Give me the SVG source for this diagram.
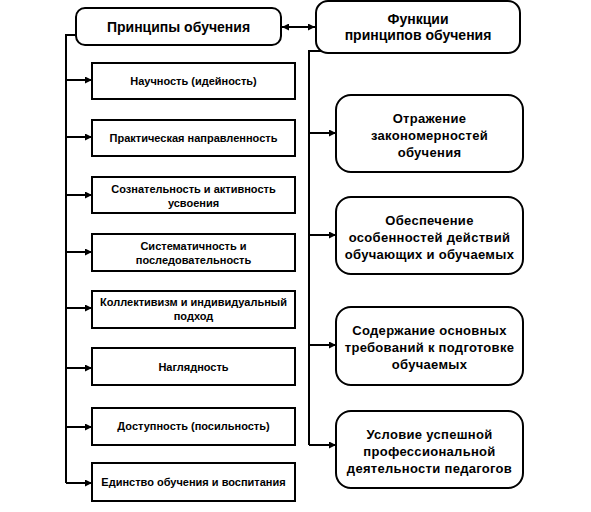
<svg xmlns="http://www.w3.org/2000/svg" width="591" height="512" viewBox="0 0 591 512">
<style>
.box{fill:#fff;stroke:#000;stroke-width:2}
.ln{fill:none;stroke:#000;stroke-width:2}
text{font-family:"Liberation Sans",Arial,sans-serif;font-weight:bold;fill:#000;text-anchor:middle}
.t{font-size:14px}
.l{font-size:11px}
.r{font-size:13px;letter-spacing:0.3px}
</style>
<defs>
<marker id="ah" viewBox="0 0 10 10" refX="10" refY="5" markerWidth="9" markerHeight="7" markerUnits="userSpaceOnUse" orient="auto-start-reverse">
<path d="M0,0 L10,5 L0,10 z" fill="#000"/>
</marker>
</defs>
<rect width="591" height="512" fill="#fff"/>
<g id="connectors">
<path class="ln" d="M76,35 H66 V483"/>
<path class="ln" d="M66,80 H92" marker-end="url(#ah)"/>
<path class="ln" d="M66,137 H92" marker-end="url(#ah)"/>
<path class="ln" d="M66,195 H92" marker-end="url(#ah)"/>
<path class="ln" d="M66,252 H92" marker-end="url(#ah)"/>
<path class="ln" d="M66,308 H92" marker-end="url(#ah)"/>
<path class="ln" d="M66,368 H92" marker-end="url(#ah)"/>
<path class="ln" d="M66,427 H92" marker-end="url(#ah)"/>
<path class="ln" d="M66,483 H92" marker-end="url(#ah)"/>
<path class="ln" d="M282,27 H315" marker-start="url(#ah)" marker-end="url(#ah)"/>
<path class="ln" d="M322,51 H309 V445"/>
<path class="ln" d="M309,133 H336" marker-end="url(#ah)"/>
<path class="ln" d="M309,235 H336" marker-end="url(#ah)"/>
<path class="ln" d="M309,345 H336" marker-end="url(#ah)"/>
<path class="ln" d="M309,445 H336" marker-end="url(#ah)"/>
</g>
<g id="principles">
<rect class="box" x="76" y="8" width="205" height="37" rx="9"/>
<text class="t" x="178.5" y="32">Принципы обучения</text>
</g>
<g id="functions">
<rect class="box" x="316" y="1" width="204" height="52" rx="12"/>
<text class="t" x="418" y="24">Функции</text>
<text class="t" x="418" y="40">принципов обучения</text>
</g>
<g id="p1"><rect class="box" x="92" y="63" width="203" height="36"/><text class="l" x="193.5" y="85">Научность (идейность)</text></g>
<g id="p2"><rect class="box" x="92" y="120" width="203" height="36"/><text class="l" x="193.5" y="142">Практическая направленность</text></g>
<g id="p3"><rect class="box" x="92" y="177" width="203" height="36"/><text class="l" x="193.5" y="193">Сознательность и активность</text><text class="l" x="193.5" y="207">усвоения</text></g>
<g id="p4"><rect class="box" x="92" y="234" width="203" height="37"/><text class="l" x="193.5" y="250">Систематичность и</text><text class="l" x="193.5" y="264">последовательность</text></g>
<g id="p5"><rect class="box" x="92" y="291" width="203" height="37"/><text class="l" x="193.5" y="306">Коллективизм и индивидуальный</text><text class="l" x="193.5" y="320">подход</text></g>
<g id="p6"><rect class="box" x="92" y="348" width="203" height="37"/><text class="l" x="193.5" y="371">Наглядность</text></g>
<g id="p7"><rect class="box" x="92" y="408" width="203" height="37"/><text class="l" x="193.5" y="430">Доступность (посильность)</text></g>
<g id="p8"><rect class="box" x="92" y="463" width="203" height="38"/><text class="l" x="193.5" y="486">Единство обучения и воспитания</text></g>
<g id="f1"><rect class="box" x="336" y="95" width="187" height="77" rx="15"/><text class="r" x="429.5" y="123">Отражение</text><text class="r" x="429.5" y="140">закономерностей</text><text class="r" x="429.5" y="157">обучения</text></g>
<g id="f2"><rect class="box" x="336" y="197" width="187" height="77" rx="15"/><text class="r" x="429.5" y="225">Обеспечение</text><text class="r" x="429.5" y="242">особенностей действий</text><text class="r" x="429.5" y="259">обучающих и обучаемых</text></g>
<g id="f3"><rect class="box" x="336" y="307" width="187" height="78" rx="15"/><text class="r" x="429.5" y="335">Содержание основных</text><text class="r" x="429.5" y="352">требований к подготовке</text><text class="r" x="429.5" y="369">обучаемых</text></g>
<g id="f4"><rect class="box" x="336" y="411" width="187" height="77" rx="15"/><text class="r" x="429.5" y="439">Условие успешной</text><text class="r" x="429.5" y="456">профессиональной</text><text class="r" x="429.5" y="473">деятельности педагогов</text></g>
</svg>
